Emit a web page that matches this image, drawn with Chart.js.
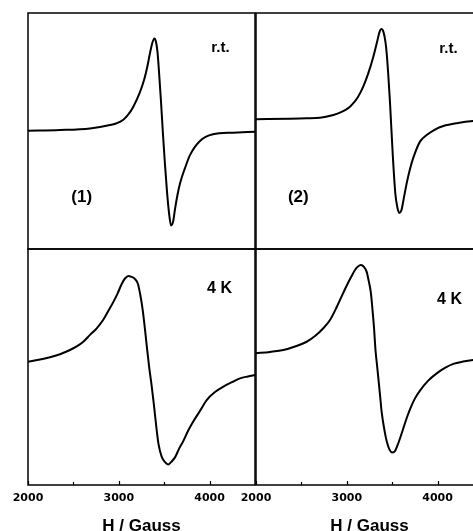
<!DOCTYPE html>
<html><head><meta charset="UTF-8"><title>EPR spectra (1) (2)</title>
<script src="https://cdn.jsdelivr.net/npm/chart.js"></script>
<style>
html,body{margin:0;padding:0;background:#fff;overflow:hidden;width:473px;height:531px;position:relative;}
canvas{position:absolute;}
</style>
</head><body>
<canvas id="p1"></canvas>
<canvas id="p2"></canvas>
<canvas id="p3"></canvas>
<canvas id="p4"></canvas>
<script>
// --- data (H in Gauss, signal in arbitrary units 0..100 per panel) ---
const field1 = [2000, 2352, 2683, 2903, 2969, 3050, 3101, 3160, 3233, 3278, 3311, 3344, 3366, 3391, 3410, 3426, 3443, 3465, 3487, 3509, 3531, 3553, 3575, 3597, 3619, 3646, 3674, 3729, 3784, 3894, 4037, 4258, 4500];
const signal1 = [50.1, 50.4, 51.1, 52.5, 53.2, 54.8, 56.8, 60.3, 66.5, 71.6, 76.7, 83.1, 86.9, 89.2, 87.7, 83.5, 75.0, 62.3, 48.3, 35.6, 24.2, 15.3, 10.0, 11.4, 16.9, 22.9, 27.8, 34.3, 39.8, 45.8, 48.6, 49.3, 49.7];

const field2 = [2000, 2374, 2558, 2705, 2852, 2925, 2991, 3035, 3079, 3123, 3182, 3237, 3292, 3333, 3360, 3382, 3404, 3426, 3439, 3476, 3505, 3534, 3556, 3577, 3602, 3630, 3660, 3696, 3732, 3806, 3880, 3971, 4063, 4225, 4390, 4500];
const signal2 = [55.0, 55.2, 55.4, 55.6, 56.8, 57.8, 59.1, 60.3, 62.1, 64.4, 68.9, 74.5, 81.5, 87.7, 91.9, 93.2, 91.9, 87.7, 83.1, 61.9, 40.7, 23.7, 17.8, 15.3, 16.5, 22.0, 27.9, 33.9, 38.6, 45.5, 48.3, 50.6, 52.1, 53.4, 54.2, 54.4];

const field3 = [2000, 2132, 2242, 2352, 2462, 2536, 2609, 2683, 2757, 2829, 2881, 2939, 2986, 3032, 3068, 3107, 3134, 3178, 3211, 3239, 3263, 3283, 3307, 3333, 3362, 3388, 3417, 3437, 3472, 3509, 3545, 3575, 3619, 3663, 3710, 3762, 3820, 3894, 3968, 4059, 4151, 4247, 4335, 4423, 4500];
const signal3 = [52.2, 53.2, 54.1, 55.4, 57.2, 58.7, 60.7, 63.6, 66.4, 70.0, 73.5, 77.5, 81.1, 85.2, 87.5, 88.6, 88.3, 87.3, 85.2, 80.1, 74.2, 67.8, 59.3, 50.4, 42.0, 33.5, 23.3, 17.4, 12.0, 9.7, 8.7, 9.7, 11.7, 15.3, 18.6, 22.9, 26.9, 31.4, 36.0, 39.4, 41.7, 43.6, 45.2, 46.0, 46.6];

const field4 = [2000, 2154, 2301, 2430, 2558, 2650, 2741, 2815, 2889, 2961, 3013, 3054, 3090, 3123, 3156, 3189, 3219, 3239, 3266, 3283, 3300, 3316, 3336, 3366, 3384, 3421, 3439, 3470, 3501, 3531, 3567, 3613, 3660, 3707, 3751, 3806, 3894, 3990, 4081, 4173, 4280, 4390, 4500];
const signal4 = [55.8, 56.4, 57.2, 58.7, 60.7, 63.1, 66.4, 69.9, 75.4, 81.4, 85.6, 88.6, 91.1, 92.6, 93.2, 92.4, 90.3, 86.9, 81.2, 74.2, 66.5, 57.2, 49.6, 38.1, 30.9, 21.9, 18.6, 15.0, 13.8, 14.4, 17.7, 22.9, 28.4, 33.1, 36.7, 40.0, 44.1, 47.3, 49.6, 51.3, 52.3, 53.0, 53.4];

const majorTicks = [2000, 3000, 4000];
const minorTicks = [2500, 3500];
const axisTitle = 'H / Gauss';
const tempTags = ['r.t.', 'r.t.', '4 K', '4 K'];
const sampleTags = ['(1)', '(2)'];

// --- layout (page px) ---
const PW = 227, PH = 236, PADX = 30, PADY = 4, AXIS_H = 60;
const panels = [
  { id: 'p1', field: field1, signal: signal1, left: 28,  top: 13,  axis: false, temp: tempTags[0], tempAt: [4119, 85.2], sample: sampleTags[0], sampleAt: [2592, 21.8] },
  { id: 'p2', field: field2, signal: signal2, left: 256, top: 13,  axis: false, temp: tempTags[1], tempAt: [4120, 84.7], sample: sampleTags[1], sampleAt: [2466, 21.8] },
  { id: 'p3', field: field3, signal: signal3, left: 28,  top: 249, axis: true,  temp: tempTags[2], tempAt: [4109, 83.1] },
  { id: 'p4', field: field4, signal: signal4, left: 256, top: 249, axis: true,  temp: tempTags[3], tempAt: [4131, 78.6] }
];

// frame, inward ticks and panel labels
const framePlugin = {
  id: 'frame',
  afterDraw(chart, args, opts) {
    const { ctx, chartArea: a, scales: { x, y } } = chart;
    ctx.save();
    ctx.strokeStyle = '#000';
    ctx.lineWidth = 1.5;
    ctx.strokeRect(a.left, a.top, a.right - a.left, a.bottom - a.top);
    if (opts.axis) {
      ctx.lineWidth = 1.2;
      ctx.beginPath();
      majorTicks.forEach(v => { const px = Math.round(x.getPixelForValue(v)) + 0.5; ctx.moveTo(px, a.bottom); ctx.lineTo(px, a.bottom - 4); });
      minorTicks.forEach(v => { const px = Math.round(x.getPixelForValue(v)) + 0.5; ctx.moveTo(px, a.bottom); ctx.lineTo(px, a.bottom - 3); });
      ctx.stroke();
    }
    ctx.fillStyle = '#000';
    ctx.textAlign = 'center';
    ctx.textBaseline = 'middle';
    if (opts.temp) {
      ctx.font = opts.temp === '4 K' ? 'bold 16px "Liberation Sans", Arial, sans-serif' : 'bold 15px "Liberation Sans", Arial, sans-serif';
      ctx.fillText(opts.temp, x.getPixelForValue(opts.tempAt[0]), y.getPixelForValue(opts.tempAt[1]));
    }
    if (opts.sample) {
      ctx.font = 'bold 17px "Liberation Sans", Arial, sans-serif';
      ctx.fillText(opts.sample, x.getPixelForValue(opts.sampleAt[0]), y.getPixelForValue(opts.sampleAt[1]));
    }
    ctx.restore();
  }
};

panels.forEach(p => {
  const cv = document.getElementById(p.id);
  const w = PW + 2 * PADX;
  const h = PH + 2 * PADY + (p.axis ? AXIS_H - PADY : 0);
  cv.width = w; cv.height = h;
  cv.style.width = w + 'px'; cv.style.height = h + 'px';
  cv.style.left = (p.left - PADX) + 'px';
  cv.style.top = (p.top - PADY) + 'px';

  const xScale = {
    type: 'linear', min: 2000, max: 4500,
    display: p.axis,
    grid: { display: false, drawTicks: false },
    border: { display: false },
    afterBuildTicks: s => { s.ticks = majorTicks.map(v => ({ value: v })); },
    ticks: {
      padding: 7,
      color: '#000',
      maxRotation: 0,
      autoSkip: false,
      font: { family: '"DejaVu Sans", sans-serif', weight: 'bold', size: 11 },
      callback: v => String(v)
    },
    title: {
      display: true,
      text: axisTitle,
      color: '#000',
      font: { family: '"Liberation Sans", Arial, sans-serif', weight: 'bold', size: 17, lineHeight: 1 },
      padding: { top: 0, bottom: 10 }
    }
  };
  if (p.axis) xScale.afterFit = s => { s.height = AXIS_H; };

  new Chart(cv, {
    type: 'line',
    data: {
      datasets: [{
        data: p.field.map((v, i) => ({ x: v, y: p.signal[i] })),
        borderColor: '#000',
        borderWidth: 2,
        pointRadius: 0,
        cubicInterpolationMode: 'monotone',
        fill: false
      }]
    },
    options: {
      responsive: false,
      animation: false,
      devicePixelRatio: 1,
      layout: { padding: { left: PADX, right: PADX, top: PADY, bottom: p.axis ? 0 : PADY } },
      plugins: {
        legend: { display: false },
        tooltip: { enabled: false },
        frame: { axis: p.axis, temp: p.temp, tempAt: p.tempAt, sample: p.sample, sampleAt: p.sampleAt }
      },
      scales: {
        x: xScale,
        y: { min: 0, max: 100, display: false }
      }
    },
    plugins: [framePlugin]
  });
});
</script>
</body></html>
